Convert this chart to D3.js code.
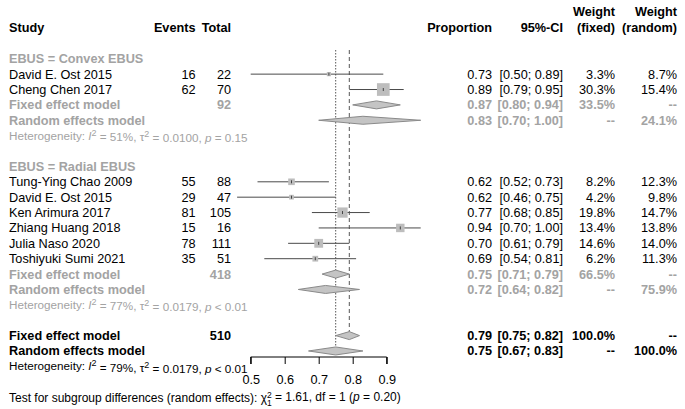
<!DOCTYPE html>
<html>
<head>
<meta charset="utf-8">
<script src="https://cdn.jsdelivr.net/npm/d3@7"></script>
<style>
  body { margin: 0; background: #fff; }
  svg { font-family: "Liberation Sans", Arial, sans-serif; }
</style>
</head>
<body>
<svg id="chart" width="685" height="409"></svg>
<script>
// study rows
const studies = ["David E. Ost 2015", "Cheng Chen 2017",
  "Tung-Ying Chao  2009", "David E. Ost 2015", "Ken Arimura 2017", "Zhiang Huang  2018", "Julia Naso  2020", "Toshiyuki Sumi  2021"];
const groups = ["Convex", "Convex", "Radial", "Radial", "Radial", "Radial", "Radial", "Radial"];
const events = [16, 62, 55, 29, 81, 15, 78, 35];
const totals = [22, 70, 88, 47, 105, 16, 111, 51];
const props = [0.73, 0.89, 0.62, 0.62, 0.77, 0.94, 0.70, 0.69];
const lowers = [0.50, 0.79, 0.52, 0.46, 0.68, 0.70, 0.61, 0.54];
const uppers = [0.89, 0.95, 0.73, 0.75, 0.85, 1.00, 0.79, 0.81];
const wFixed = [3.3, 30.3, 8.2, 4.2, 19.8, 13.4, 14.6, 6.2];
const wRandom = [8.7, 15.4, 12.3, 9.8, 14.7, 13.8, 14.0, 11.3];

// subgroup + overall summaries
const subgroupNames = ["EBUS = Convex EBUS", "EBUS = Radial EBUS"];
const subTotals = [92, 418];
const subFixed = [[0.87, 0.80, 0.94], [0.75, 0.71, 0.79]];
const subRandom = [[0.83, 0.70, 1.00], [0.72, 0.64, 0.82]];
const subWFixed = ["33.5%", "66.5%"];
const subWRandom = ["24.1%", "75.9%"];
const subHet = [["51%", "0.0100", "= 0.15"], ["77%", "0.0179", "< 0.01"]];

const overallTotal = 510;
const overallFixed = [0.79, 0.75, 0.82];
const overallRandom = [0.75, 0.67, 0.83];
const overallHet = ["79%", "0.0179", "< 0.01"];
const subgroupTest = ["1.61", "1", "0.20"];

const ticks = [0.5, 0.6, 0.7, 0.8, 0.9];

const svg = d3.select("#chart");
const x = d3.scaleLinear().domain([0.5, 0.9]).range([250.7, 386.7]);
const row = d3.scaleLinear().domain([0, 22]).range([28, 28 + 22 * 15.38]);
const sq = d3.scaleSqrt().domain([0, 30.3]).range([0, 12.7]);

const FS = 12.7;
const GREY = "#a3a3a3";
const col = { study: 9, events: 195.5, total: 231, prop: 492, ci: 563, wf: 615, wr: 677 };
const fmt = d3.format(".2f");
const ciText = (l, u) => `[${fmt(l)}; ${fmt(u)}]`;

function txt(xp, r, s, opts = {}) {
  return svg.append("text")
    .attr("x", xp).attr("y", row(r)).attr("dy", "0.35em")
    .attr("font-size", opts.size || FS)
    .attr("font-weight", opts.bold ? "bold" : "normal")
    .attr("fill", opts.color || "#000")
    .attr("text-anchor", opts.anchor || "start")
    .text(s);
}

// header
txt(col.study, 0, "Study", { bold: true });
txt(col.events, 0, "Events", { bold: true, anchor: "end" });
txt(col.total, 0, "Total", { bold: true, anchor: "end" });
txt(col.prop, 0, "Proportion", { bold: true, anchor: "end" });
txt(col.ci, 0, "95%-CI", { bold: true, anchor: "end" });
txt(col.wf, -1.05, "Weight", { bold: true, anchor: "end" });
txt(col.wf, 0, "(fixed)", { bold: true, anchor: "end" });
txt(col.wr, -1.05, "Weight", { bold: true, anchor: "end" });
txt(col.wr, 0, "(random)", { bold: true, anchor: "end" });

function hetText(r, h, color) {
  const t = svg.append("text")
    .attr("x", col.study).attr("y", row(r)).attr("dy", "0.35em")
    .attr("font-size", 11.7).attr("fill", color);
  t.append("tspan").text("Heterogeneity: ");
  t.append("tspan").attr("font-style", "italic").text("I");
  t.append("tspan").attr("dy", "-0.45em").attr("font-size", 9).text("2");
  t.append("tspan").attr("dy", "0.45em").text(` = ${h[0]}, τ`);
  t.append("tspan").attr("dy", "-0.45em").attr("font-size", 9).text("2");
  t.append("tspan").attr("dy", "0.45em").text(` = ${h[1]}, `);
  t.append("tspan").attr("font-style", "italic").text("p");
  t.append("tspan").text(` ${h[2]}`);
}

function diamond(r, v, color, stroke) {
  const yc = row(r), h = 4;
  svg.append("path")
    .attr("d", `M${x(v[1])},${yc}L${x(v[0])},${yc - h}L${x(v[2])},${yc}L${x(v[0])},${yc + h}Z`)
    .attr("fill", color).attr("stroke", stroke).attr("stroke-width", 1);
}

// reference lines (drawn first, under marks)
svg.append("line")
  .attr("x1", x(overallRandom[0])).attr("x2", x(overallRandom[0]))
  .attr("y1", 50).attr("y2", row(21))
  .attr("stroke", "#555").attr("stroke-dasharray", "1.5,1.5");
svg.append("line")
  .attr("x1", x(overallFixed[0])).attr("x2", x(overallFixed[0]))
  .attr("y1", 50).attr("y2", row(20))
  .attr("stroke", "#555").attr("stroke-dasharray", "4,3");

// layout of subgroups: start rows
const groupStart = [2, 9];
const groupKeys = ["Convex", "Radial"];

groupKeys.forEach((g, gi) => {
  const r0 = groupStart[gi];
  txt(col.study, r0, subgroupNames[gi], { bold: true, color: GREY });
  const idx = d3.range(studies.length).filter(i => groups[i] === g);
  idx.forEach((i, k) => {
    const r = r0 + 1 + k;
    txt(col.study, r, studies[i]);
    txt(col.events, r, events[i], { anchor: "end" });
    txt(col.total, r, totals[i], { anchor: "end" });
    txt(col.prop, r, fmt(props[i]), { anchor: "end" });
    txt(col.ci, r, ciText(lowers[i], uppers[i]), { anchor: "end" });
    txt(col.wf, r, wFixed[i].toFixed(1) + "%", { anchor: "end" });
    txt(col.wr, r, wRandom[i].toFixed(1) + "%", { anchor: "end" });
    const yc = row(r);
    svg.append("line")
      .attr("x1", x(lowers[i])).attr("x2", x(uppers[i]))
      .attr("y1", yc).attr("y2", yc)
      .attr("stroke", "#4a4a4a").attr("stroke-width", 1);
    const s = sq(wFixed[i]);
    svg.append("rect")
      .attr("x", x(props[i]) - s / 2).attr("y", yc - s / 2)
      .attr("width", s).attr("height", s)
      .attr("fill", "#bdbdbd");
    svg.append("line")
      .attr("x1", x(props[i])).attr("x2", x(props[i]))
      .attr("y1", yc - 1.5).attr("y2", yc + 1.5)
      .attr("stroke", "#444");
  });
  const rf = r0 + 1 + idx.length;
  txt(col.study, rf, "Fixed effect model", { bold: true, color: GREY });
  txt(col.total, rf, subTotals[gi], { bold: true, anchor: "end", color: GREY });
  txt(col.prop, rf, fmt(subFixed[gi][0]), { bold: true, anchor: "end", color: GREY });
  txt(col.ci, rf, ciText(subFixed[gi][1], subFixed[gi][2]), { bold: true, anchor: "end", color: GREY });
  txt(col.wf, rf, subWFixed[gi], { bold: true, anchor: "end", color: GREY });
  txt(col.wr, rf, "--", { bold: true, anchor: "end", color: GREY });
  diamond(rf, subFixed[gi], "#c4c4c4", "#8a8a8a");

  const rr = rf + 1;
  txt(col.study, rr, "Random effects model", { bold: true, color: GREY });
  txt(col.prop, rr, fmt(subRandom[gi][0]), { bold: true, anchor: "end", color: GREY });
  txt(col.ci, rr, ciText(subRandom[gi][1], subRandom[gi][2]), { bold: true, anchor: "end", color: GREY });
  txt(col.wf, rr, "--", { bold: true, anchor: "end", color: GREY });
  txt(col.wr, rr, subWRandom[gi], { bold: true, anchor: "end", color: GREY });
  diamond(rr, subRandom[gi], "#c4c4c4", "#8a8a8a");

  hetText(rr + 1, subHet[gi], GREY);
});

// overall
txt(col.study, 20, "Fixed effect model", { bold: true });
txt(col.total, 20, overallTotal, { bold: true, anchor: "end" });
txt(col.prop, 20, fmt(overallFixed[0]), { bold: true, anchor: "end" });
txt(col.ci, 20, ciText(overallFixed[1], overallFixed[2]), { bold: true, anchor: "end" });
txt(col.wf, 20, "100.0%", { bold: true, anchor: "end" });
txt(col.wr, 20, "--", { bold: true, anchor: "end" });
diamond(20, overallFixed, "#c4c4c4", "#8a8a8a");

txt(col.study, 21, "Random effects model", { bold: true });
txt(col.prop, 21, fmt(overallRandom[0]), { bold: true, anchor: "end" });
txt(col.ci, 21, ciText(overallRandom[1], overallRandom[2]), { bold: true, anchor: "end" });
txt(col.wf, 21, "--", { bold: true, anchor: "end" });
txt(col.wr, 21, "100.0%", { bold: true, anchor: "end" });
diamond(21, overallRandom, "#c4c4c4", "#8a8a8a");

hetText(22, overallHet, "#000");

// axis (ticks pointing down, R style)
const axis = svg.append("g")
  .attr("transform", "translate(0,357)")
  .call(d3.axisBottom(x).tickValues(ticks).tickSize(7).tickFormat(d3.format(".1f")));
axis.selectAll("path, line").attr("stroke", "#000");
axis.select(".domain").attr("d", `M${x(0.5)},7V0H${x(0.9)}V7`);
axis.selectAll("text")
  .attr("font-family", "Liberation Sans, Arial, sans-serif")
  .attr("font-size", FS).attr("y", 18);

// subgroup test
const tt = svg.append("text")
  .attr("x", col.study).attr("y", 398).attr("dy", "0.35em")
  .attr("font-size", 12);
tt.append("tspan").text("Test for subgroup differences (random effects): χ");
tt.append("tspan").attr("dy", "-0.45em").attr("font-size", 8.5).text("2");
tt.append("tspan").attr("dx", "-4.8").attr("dy", "0.85em").attr("font-size", 8.5).text(subgroupTest[1]);
tt.append("tspan").attr("dy", "-0.4em").text(` = ${subgroupTest[0]}, df = ${subgroupTest[1]} (`);
tt.append("tspan").attr("font-style", "italic").text("p");
tt.append("tspan").text(` = ${subgroupTest[2]})`);
</script>
</body>
</html>
